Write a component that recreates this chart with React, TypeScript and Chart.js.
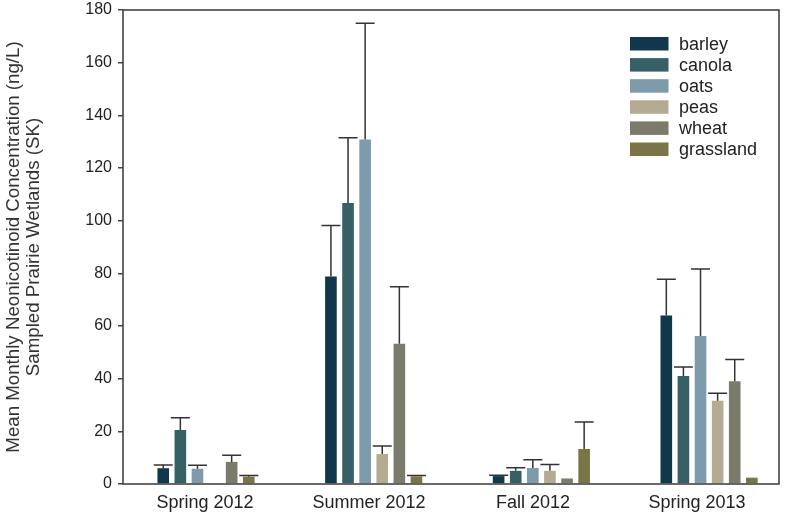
import React, { useEffect, useRef } from 'react';
import { Chart, registerables } from 'chart.js';

Chart.register(...registerables);

const categories = ['Spring 2012', 'Summer 2012', 'Fall 2012', 'Spring 2013'];
const seriesNames = ['barley', 'canola', 'oats', 'peas', 'wheat', 'grassland'];
const seriesColors = ['#12374a', '#365f66', '#7d9bab', '#b4ab92', '#7b7b6b', '#7b7447'];

// mean values per season
const barley = [6.0, 78.8, 3.0, 64.0];
const canola = [20.5, 106.7, 5.0, 41.0];
const oats = [5.8, 130.8, 6.1, 56.2];
const peas = [null, 11.4, 5.0, 31.6];
const wheat = [8.4, 53.3, 2.1, 39.0];
const grassland = [2.8, 2.9, 13.3, 2.4];

// upper error (added to mean)
const barleyErr = [1.2, 19.4, 0.3, 13.8];
const canolaErr = [4.7, 24.8, 1.2, 3.4];
const oatsErr = [1.3, 44.2, 3.1, 25.4];
const peasErr = [null, 3.0, 2.4, 2.9];
const wheatErr = [2.5, 21.6, null, 8.3];
const grasslandErr = [0.4, 0.3, 10.2, null];

const yTickValues = [0, 20, 40, 60, 80, 100, 120, 140, 160, 180];
const yTitle = ['Mean Monthly Neonicotinoid Concentration (ng/L)', 'Sampled Prairie Wetlands (SK)'];

const seriesValues = [barley, canola, oats, peas, wheat, grassland];
const seriesErrors = [barleyErr, canolaErr, oatsErr, peasErr, wheatErr, grasslandErr];

const FONT = '"Liberation Sans", Arial, sans-serif';

export default function App() {
  const ref = useRef<HTMLCanvasElement | null>(null);

  useEffect(() => {
    document.body.style.margin = '0';
    const canvas = ref.current;
    if (!canvas) return;

    const errorBars = {
      id: 'errorBars',
      afterDatasetsDraw(chart: any) {
        const ctx = chart.ctx;
        const yScale = chart.scales.y;
        ctx.save();
        ctx.strokeStyle = '#333333';
        ctx.lineWidth = 1.5;
        chart.data.datasets.forEach((ds: any, i: number) => {
          const meta = chart.getDatasetMeta(i);
          meta.data.forEach((bar: any, j: number) => {
            const v = seriesValues[i][j];
            const e = seriesErrors[i][j];
            if (v == null || e == null) return;
            const yTop = yScale.getPixelForValue(v + e);
            const yBar = yScale.getPixelForValue(v);
            const x = bar.x;
            ctx.beginPath();
            ctx.moveTo(x, yBar);
            ctx.lineTo(x, yTop);
            ctx.moveTo(x - 9.5, yTop);
            ctx.lineTo(x + 9.5, yTop);
            ctx.stroke();
          });
        });
        ctx.restore();
      },
    };

    const frame = {
      id: 'frame',
      afterDraw(chart: any) {
        const { left, right, top, bottom } = chart.chartArea;
        const ctx = chart.ctx;
        ctx.save();
        ctx.strokeStyle = '#444444';
        ctx.lineWidth = 1.6;
        ctx.strokeRect(left, top, right - left, bottom - top);
        ctx.restore();
      },
    };

    const legend = {
      id: 'customLegend',
      afterDraw(chart: any) {
        const ctx = chart.ctx;
        ctx.save();
        ctx.font = `18px ${FONT}`;
        ctx.textBaseline = 'middle';
        ctx.textAlign = 'left';
        seriesNames.forEach((name, i) => {
          const cy = 44 + i * 21.1;
          ctx.fillStyle = seriesColors[i];
          ctx.fillRect(630, cy - 7, 38.5, 13.5);
          ctx.fillStyle = '#222222';
          ctx.fillText(name, 679, cy + 1);
        });
        ctx.restore();
      },
    };

    const chart = new Chart(canvas, {
      type: 'bar',
      data: {
        labels: categories,
        datasets: seriesNames.map((name, i) => ({
          label: name,
          data: seriesValues[i].map((v, j) => ({ x: j, y: v })),
          backgroundColor: seriesColors[i],
          borderWidth: 0,
          xAxisID: 'xBar',
          yAxisID: 'y',
          categoryPercentage: 0.612,
          barPercentage: 0.68,
        })),
      },
      options: {
        responsive: false,
        animation: false,
        devicePixelRatio: 1,
        layout: { padding: { left: 0, top: 10, right: 7, bottom: 0 } },
        plugins: {
          legend: { display: false },
          tooltip: { enabled: false },
        },
        scales: {
          x: {
            type: 'category',
            offset: true,
            grid: { display: false, drawTicks: false, tickLength: 0 },
            border: { display: false },
            ticks: {
              color: '#222222',
              font: { family: FONT, size: 18 },
              padding: 8,
              maxRotation: 0,
              autoSkip: false,
            },
            afterFit(scale: any) {
              scale.height = 36;
            },
          },
          xBar: {
            type: 'linear',
            display: false,
            offset: false,
            min: -0.495,
            max: 3.417,
            afterBuildTicks(scale: any) {
              scale.ticks = categories.map((_, j) => ({ value: j }));
            },
          },
          y: {
            type: 'linear',
            min: 0,
            max: 180,
            afterBuildTicks(scale: any) {
              scale.ticks = yTickValues.map((v) => ({ value: v }));
            },
            grid: {
              drawOnChartArea: false,
              drawTicks: true,
              tickLength: 5,
              color: '#444444',
              lineWidth: 1.5,
            },
            border: { display: false },
            ticks: {
              color: '#222222',
              font: { family: FONT, size: 16, lineHeight: 0.5 },
              padding: 6,
            },
            title: {
              display: true,
              text: yTitle,
              color: '#333333',
              font: { family: FONT, size: 18.7, lineHeight: 1.07 },
              padding: { top: 4, bottom: 0 },
            },
            afterFit(scale: any) {
              scale.width = 123;
            },
          },
        },
      },
      plugins: [errorBars, frame, legend],
    });

    return () => chart.destroy();
  }, []);

  return (
    <div style={{ position: 'fixed', left: 0, top: 0, width: 786, height: 520, background: '#fff' }}>
      <canvas ref={ref} width={786} height={520} style={{ width: 786, height: 520, display: 'block' }} />
    </div>
  );
}
